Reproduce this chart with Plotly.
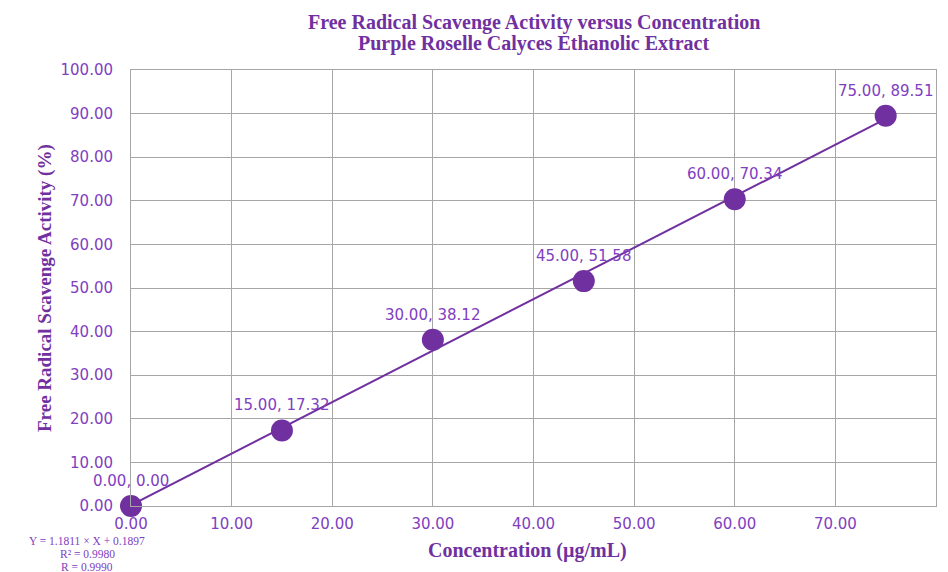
import plotly.graph_objects as go

conc = [0.0, 15.0, 30.0, 45.0, 60.0, 75.0]
activity = [0.00, 17.32, 38.12, 51.58, 70.34, 89.51]
fit_x = [0.0, 75.0]
fit_y = [0.19, 88.77]
x_ticks = [0, 10, 20, 30, 40, 50, 60, 70, 80]
y_ticks = [0, 10, 20, 30, 40, 50, 60, 70, 80, 90, 100]
title_lines = ["Free Radical Scavenge Activity versus Concentration",
               "Purple Roselle Calyces Ethanolic Extract"]
eq_lines = ["Y = 1.1811 × X + 0.1897", "R² = 0.9980", "R = 0.9990"]

PURPLE = "#7030A0"
TEXT = "#8040C0"
SERIF = "Liberation Serif"
SANS = "DejaVu Sans"

# page body adds an ~8px offset; plot area targets window px x 131..936, y 70..506
PW, PH = 805, 436

fig = go.Figure()
fig.add_trace(go.Scatter(x=fit_x, y=fit_y, mode="lines", cliponaxis=False,
                         line=dict(color=PURPLE, width=2), showlegend=False, hoverinfo="skip"))
fig.add_trace(go.Scatter(x=conc, y=activity, mode="markers", cliponaxis=False,
                         marker=dict(color=PURPLE, size=22), showlegend=False))

for xv, yv in zip(conc, activity):
    fig.add_annotation(x=xv, y=yv, text=f"{xv:.2f}, {yv:.2f}", showarrow=False,
                       yshift=25, font=dict(family=SANS, size=15, color=TEXT))

for i, t in enumerate(title_lines):
    fig.add_annotation(xref="paper", yref="paper", x=0.5, y=1 + (48 - 21 * i) / PH,
                       xanchor="center", yanchor="middle", showarrow=False,
                       text=f"<b>{t}</b>", font=dict(family=SERIF, size=20, color=PURPLE))

eq_y = [541, 554, 567]
for t, py in zip(eq_lines, eq_y):
    fig.add_annotation(xref="paper", yref="paper", x=(87 - 131) / PW, y=-(py - 506) / PH,
                       xanchor="center", yanchor="middle", showarrow=False, height=12,
                       text=t, font=dict(family=SERIF, size=11.5, color=TEXT))

fig.add_annotation(xref="paper", yref="paper", x=(45 - 131) / PW, y=0.5,
                   xanchor="center", yanchor="middle", showarrow=False, textangle=-90,
                   text="<b>Free Radical Scavenge Activity (%)</b>",
                   font=dict(family=SERIF, size=19, color=PURPLE))
fig.add_annotation(xref="paper", yref="paper", x=(527 - 131) / PW, y=-(550 - 506) / PH,
                   xanchor="center", yanchor="middle", showarrow=False,
                   text="<b>Concentration (µg/mL)</b>",
                   font=dict(family=SERIF, size=20, color=PURPLE))

fig.update_layout(
    width=948, height=572,
    margin=dict(l=123, r=20, t=62, b=74),
    paper_bgcolor="white", plot_bgcolor="white",
    font=dict(family=SANS, color=TEXT),
)
fig.update_xaxes(range=[0, 80], tickvals=x_ticks, tickformat=".2f", automargin=False,
                 showgrid=True, gridcolor="#A6A6A6", gridwidth=1,
                 zeroline=False, showline=True, linecolor="#A6A6A6", mirror=True,
                 ticks="outside", ticklen=4, tickcolor="rgba(0,0,0,0)",
                 tickfont=dict(family=SANS, size=15, color=TEXT))
fig.update_yaxes(range=[0, 100], tickvals=y_ticks, tickformat=".2f", automargin=False,
                 showgrid=True, gridcolor="#A6A6A6", gridwidth=1,
                 zeroline=False, showline=True, linecolor="#A6A6A6", mirror=True,
                 ticks="outside", ticklen=14, tickcolor="rgba(0,0,0,0)",
                 tickfont=dict(family=SANS, size=15, color=TEXT))

fig.write_html("out.html")
